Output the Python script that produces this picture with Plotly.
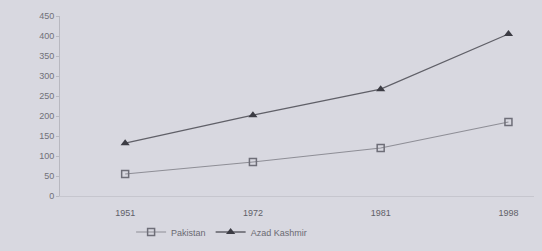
import plotly.graph_objects as go

years = ["1951", "1972", "1981", "1998"]
pakistan = [55, 85, 120, 185]
azad_kashmir = [132, 202, 267, 405]
y_ticks = [0, 50, 100, 150, 200, 250, 300, 350, 400, 450]

BG = "#d8d8e0"

fig = go.Figure()
fig.add_trace(go.Scatter(
    x=years, y=pakistan, name="Pakistan", mode="lines+markers",
    line=dict(color="#8e8e96", width=1.2),
    marker=dict(symbol="square-open", size=7, color="#6e6e78", line=dict(width=1.5)),
))
fig.add_trace(go.Scatter(
    x=years, y=azad_kashmir, name="Azad Kashmir", mode="lines+markers",
    line=dict(color="#606068", width=1.3),
    marker=dict(symbol="triangle-up", size=8, color="#3c3c44"),
))

fig.update_layout(
    width=542, height=251,
    margin=dict(l=60, r=8, t=16, b=55, autoexpand=False),
    paper_bgcolor=BG, plot_bgcolor=BG,
    font=dict(family="Liberation Sans, Arial, sans-serif", size=9, color="#707078"),
    showlegend=True,
    legend=dict(orientation="h", x=0.15, y=-0.2, xanchor="left", yanchor="middle",
                bgcolor="rgba(0,0,0,0)", font=dict(size=9, color="#6a6a72"),
                itemwidth=30),
    xaxis=dict(type="category", range=[-0.51, 3.2], showgrid=False, zeroline=False,
               showline=True, linecolor="#c6c6ce", linewidth=1, automargin=False,
               ticks="outside", ticklen=8, tickcolor=BG,
               tickfont=dict(size=9, color="#606068")),
    yaxis=dict(range=[0, 450], tickvals=y_ticks, showgrid=False, zeroline=False,
               showline=True, linecolor="#b8b8c0", linewidth=1, automargin=False,
               ticks="outside", ticklen=3, tickcolor="#b8b8c0",
               tickfont=dict(size=9, color="#707078")),
)

fig.write_html(
    "out.html",
    config={"displayModeBar": False},
    post_script="document.body.style.margin='0';document.body.style.background='%s';" % BG,
)
